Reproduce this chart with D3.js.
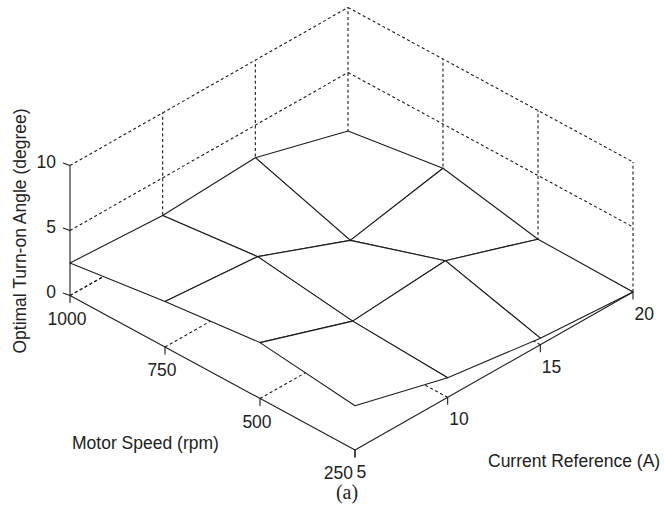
<!DOCTYPE html>
<html>
<head>
<meta charset="utf-8">
<script src="https://cdn.jsdelivr.net/npm/d3@7"></script>
<style>
  html, body { margin: 0; padding: 0; background: #fff; }
  svg { display: block; }
  text { font-family: "Liberation Sans", Arial, Helvetica, sans-serif; font-size: 17.5px; fill: #222; }
</style>
</head>
<body>
<script>
// Axis values
const speeds = [250, 500, 750, 1000];      // Motor Speed (rpm)
const currents = [5, 10, 15, 20];          // Current Reference (A)
const zTicks = [0, 5, 10];                 // Optimal Turn-on Angle (degree)

// Optimal turn-on angle (degree); one row per motor speed, one column per current
const angle250  = [3.4, 1.5, 0.5, 0.0];
const angle500  = [4.3, 1.9, 2.5, 0.1];
const angle750  = [3.5, 2.9, 0.1, 1.6];
const angle1000 = [2.5, 2.1, 2.5, 0.5];
const angles = [angle250, angle500, angle750, angle1000];

const W = 664, H = 516;
const svg = d3.select("body").append("svg").attr("width", W).attr("height", H);

// Axonometric projection built from three linear scales
const sNorm = d3.scaleLinear().domain([250, 1000]).range([0, 1]);
const cNorm = d3.scaleLinear().domain([5, 20]).range([0, 1]);
const zPix  = d3.scaleLinear().domain([0, 10]).range([0, 130]);
const front = [355, 450], leftC = [70, 295.5], rightC = [633, 292];

function P(s, c, z) {
  const a = sNorm(s), b = cNorm(c);
  return [
    front[0] + a * (leftC[0] - front[0]) + b * (rightC[0] - front[0]),
    front[1] + a * (leftC[1] - front[1]) + b * (rightC[1] - front[1]) - zPix(z)
  ];
}

const ink = "#1c1c1c";
const line = d3.line();
const sMin = speeds[0], sMax = speeds[speeds.length - 1];
const cMin = currents[0], cMax = currents[currents.length - 1];
const zMin = zTicks[0], zMax = zTicks[zTicks.length - 1];

// Dotted grid on back walls and floor
const grid = svg.append("g")
  .attr("fill", "none").attr("stroke", ink).attr("stroke-width", 1.1)
  .attr("stroke-dasharray", "3,2.6");
const gridSegs = [];
zTicks.forEach(z => {
  gridSegs.push([P(sMax, cMin, z), P(sMax, cMax, z)]);   // wall at top speed
  gridSegs.push([P(sMax, cMax, z), P(sMin, cMax, z)]);   // wall at top current
});
currents.slice(1).forEach(c => gridSegs.push([P(sMax, c, zMin), P(sMax, c, zMax)]));
speeds.slice(0, -1).forEach(s => gridSegs.push([P(s, cMax, zMin), P(s, cMax, zMax)]));
speeds.slice(1).forEach(s => gridSegs.push([P(s, cMin, zMin), P(s, cMax, zMin)]));
currents.slice(1).forEach(c => gridSegs.push([P(sMin, c, zMin), P(sMax, c, zMin)]));
grid.selectAll("path").data(gridSegs).join("path").attr("d", d => line(d));

// Mesh faces, painted far to near so that hidden parts are covered
const faces = [];
for (let i = 0; i < speeds.length - 1; i++) {
  for (let j = 0; j < currents.length - 1; j++) {
    faces.push({
      depth: i + j,
      pts: [
        P(speeds[i], currents[j], angles[i][j]),
        P(speeds[i + 1], currents[j], angles[i + 1][j]),
        P(speeds[i + 1], currents[j + 1], angles[i + 1][j + 1]),
        P(speeds[i], currents[j + 1], angles[i][j + 1])
      ]
    });
  }
}
faces.sort((a, b) => b.depth - a.depth);
svg.append("g").selectAll("path").data(faces).join("path")
  .attr("d", d => line(d.pts) + "Z")
  .attr("fill", "#fff").attr("stroke", ink).attr("stroke-width", 1.1)
  .attr("stroke-linejoin", "round");

// Axis lines
const axes = svg.append("g").attr("fill", "none").attr("stroke", ink).attr("stroke-width", 1.1);
axes.append("path").attr("d", line([P(sMax, cMin, zMin), P(sMax, cMin, zMax)]));
axes.append("path").attr("d", line([P(sMax, cMin, zMin), P(sMin, cMin, zMin)]));
axes.append("path").attr("d", line([P(sMin, cMin, zMin), P(sMin, cMax, zMin)]));

// Ticks
zTicks.forEach(z => {
  const [x, y] = P(sMax, cMin, z);
  axes.append("path").attr("d", line([[x, y], [x - 7, y - 2.5]]));
});
speeds.forEach(s => {
  const [x, y] = P(s, cMin, zMin);
  axes.append("path").attr("d", line([[x, y], [x, y + 7.5]]));
});
currents.forEach(c => {
  const [x, y] = P(sMin, c, zMin);
  axes.append("path").attr("d", line([[x, y], [x, y + 7.5]]));
});

// Tick labels
const labels = svg.append("g");
zTicks.forEach(z => {
  const [x, y] = P(sMax, cMin, z);
  labels.append("text").attr("x", x - 14).attr("y", y - 3.5)
    .attr("text-anchor", "end").attr("dominant-baseline", "central").text(z);
});
speeds.forEach((s, k) => {
  const [x, y] = P(s, cMin, zMin);
  const corner = k === 0;
  labels.append("text")
    .attr("x", corner ? x - 2 : x - 3).attr("y", y + 23)
    .attr("text-anchor", corner ? "end" : "middle")
    .attr("dominant-baseline", "central").text(s);
});
currents.forEach(c => {
  const [x, y] = P(sMin, c, zMin);
  labels.append("text").attr("x", x + 1.5).attr("y", y + 22)
    .attr("text-anchor", "start").attr("dominant-baseline", "central").text(c);
});

// Axis titles
labels.append("text").attr("x", 72).attr("y", 443)
  .attr("dominant-baseline", "central").text("Motor Speed (rpm)");
labels.append("text").attr("x", 488).attr("y", 461)
  .attr("dominant-baseline", "central").text("Current Reference (A)");
labels.append("text")
  .attr("transform", "translate(20,231) rotate(-90)")
  .attr("text-anchor", "middle").attr("dominant-baseline", "central")
  .text("Optimal Turn-on Angle (degree)");

// Panel caption
labels.append("text").attr("x", 347).attr("y", 492)
  .attr("text-anchor", "middle").attr("dominant-baseline", "central")
  .style("font-family", "'Liberation Serif', 'Times New Roman', serif")
  .style("font-size", "20px")
  .text("(a)");
</script>
</body>
</html>
